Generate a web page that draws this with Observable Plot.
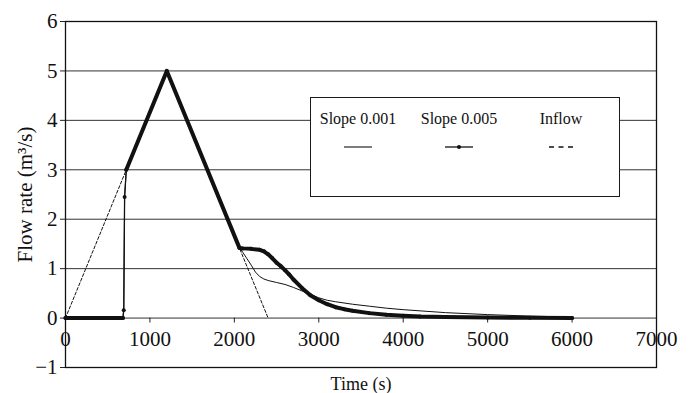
<!DOCTYPE html>
<html>
<head>
<meta charset="utf-8">
<script src="https://cdn.jsdelivr.net/npm/d3@7"></script>
<script src="https://cdn.jsdelivr.net/npm/@observablehq/plot@0.6"></script>
<style>
  body { margin: 0; background: #fff; }
  #chart { position: relative; width: 691px; height: 393px; font-family: "Liberation Serif", serif; }
  #chart text { font-family: "Liberation Serif", serif !important; font-variant: normal !important; }
  #legend { position: absolute; background: #fff; border: 1.4px solid #1a1a1a; box-sizing: border-box; }
</style>
</head>
<body>
<div id="chart"></div>
<script>
// ---- data ----
const xTicks = [0, 1000, 2000, 3000, 4000, 5000, 6000, 7000];
const yTicks = [-1, 0, 1, 2, 3, 4, 5, 6];

const inflowT = [0, 1200, 2400];
const inflowQ = [0, 5, 0];

const slope005T = [0, 100, 200, 300, 400, 500, 600, 680, 690, 700, 720, 1200, 2060, 2100, 2200, 2300, 2350, 2400, 2450, 2500, 2550, 2600, 2650, 2700, 2800, 2900, 3000, 3100, 3200, 3300, 3400, 3600, 3800, 4000, 4200, 4500, 5000, 5500, 6000];
const slope005Q = [0, 0, 0, 0, 0, 0, 0, 0, 0.16, 2.45, 3.0, 5.0, 1.42, 1.41, 1.40, 1.38, 1.35, 1.29, 1.21, 1.12, 1.05, 0.97, 0.88, 0.78, 0.61, 0.46, 0.36, 0.28, 0.22, 0.18, 0.15, 0.10, 0.065, 0.045, 0.03, 0.02, 0.01, 0.005, 0];

const slope001T = [0, 680, 690, 700, 720, 1200, 2060, 2100, 2150, 2200, 2250, 2300, 2350, 2400, 2500, 2600, 2700, 2800, 2900, 3000, 3100, 3200, 3400, 3600, 3800, 4000, 4500, 5000, 5500, 6000];
const slope001Q = [0, 0, 0.16, 2.45, 3.0, 5.0, 1.42, 1.33, 1.20, 1.07, 0.93, 0.84, 0.79, 0.76, 0.72, 0.68, 0.62, 0.55, 0.48, 0.41, 0.36, 0.33, 0.28, 0.24, 0.20, 0.17, 0.11, 0.07, 0.04, 0.02];

const seriesNames = ["Slope 0.001", "Slope 0.005", "Inflow"];

// ---- tables ----
const inflow = inflowT.map((t, i) => ({t, q: inflowQ[i]}));
const s005 = slope005T.map((t, i) => ({t, q: slope005Q[i]}));
const s001 = slope001T.map((t, i) => ({t, q: slope001Q[i]}));

const FONT = '"Liberation Serif", serif';

const plot = Plot.plot({
  width: 691,
  height: 393,
  marginLeft: 65,
  marginRight: 35,
  marginTop: 21,
  marginBottom: 26,
  style: {fontFamily: FONT, color: "#111", background: "#fff"},
  x: {domain: [0, 7000], axis: null},
  y: {domain: [-1, 6]},
  marks: [
    Plot.ruleY(yTicks, {y: d => d, stroke: "#333", strokeWidth: 1}),
    Plot.axisY(yTicks, {tickSize: 5, tickPadding: 3, fontSize: 21, stroke: "#222", fontFamily: FONT,
      label: "Flow rate (m³/s)", labelAnchor: "center", labelOffset: 48, labelArrow: "none"}),
    Plot.ruleX(xTicks.slice(1, -1), {x: d => d, y1: 0, y2: -0.1, stroke: "#222", strokeWidth: 1}),
    Plot.text(xTicks, {x: d => d, y: 0, dy: 21, text: d => String(d), fontSize: 21, fill: "#111", fontFamily: FONT}),
    Plot.text(["Time (s)"], {frameAnchor: "bottom", dy: 22, fontSize: 18, fill: "#111", fontFamily: FONT}),
    Plot.frame({stroke: "#111", strokeWidth: 1.3}),
    Plot.line(inflow, {x: "t", y: "q", stroke: "#111", strokeWidth: 1, strokeDasharray: "3,2"}),
    Plot.line(s001, {x: "t", y: "q", stroke: "#111", strokeWidth: 1}),
    Plot.line(s005, {x: "t", y: "q", stroke: "#111", strokeWidth: 1.3}),
    Plot.line(s005, {x: "t", y: d => (d.t > 680 && d.t < 720) ? NaN : d.q, stroke: "#111", strokeWidth: 4}),
    Plot.dot(s005, {x: "t", y: "q", r: 2, fill: "#111", stroke: null})
  ]
});

const chart = document.getElementById("chart");
chart.appendChild(plot);

// ---- legend (HTML overlay with small svg samples) ----
const legend = d3.select(chart).append("div").attr("id", "legend")
  .style("left", "310px").style("top", "97px").style("width", "310px").style("height", "100px");
const lsvg = legend.append("svg").attr("width", 308).attr("height", 98)
  .style("position", "absolute").style("left", "0").style("top", "0");
const cx = [47, 148, 250];
seriesNames.forEach((name, i) => {
  lsvg.append("text").attr("x", cx[i]).attr("y", 26).attr("text-anchor", "middle")
    .attr("font-size", 16).attr("fill", "#111").text(name);
});
lsvg.append("line").attr("x1", cx[0] - 14).attr("x2", cx[0] + 14).attr("y1", 49).attr("y2", 49)
  .attr("stroke", "#111").attr("stroke-width", 1.1);
lsvg.append("line").attr("x1", cx[1] - 14).attr("x2", cx[1] + 14).attr("y1", 49).attr("y2", 49)
  .attr("stroke", "#111").attr("stroke-width", 1.3);
lsvg.append("circle").attr("cx", cx[1]).attr("cy", 49).attr("r", 2).attr("fill", "#111");
lsvg.append("line").attr("x1", cx[2] - 12).attr("x2", cx[2] + 12).attr("y1", 49).attr("y2", 49)
  .attr("stroke", "#111").attr("stroke-width", 1.5).attr("stroke-dasharray", "5,4.5");
</script>
</body>
</html>
